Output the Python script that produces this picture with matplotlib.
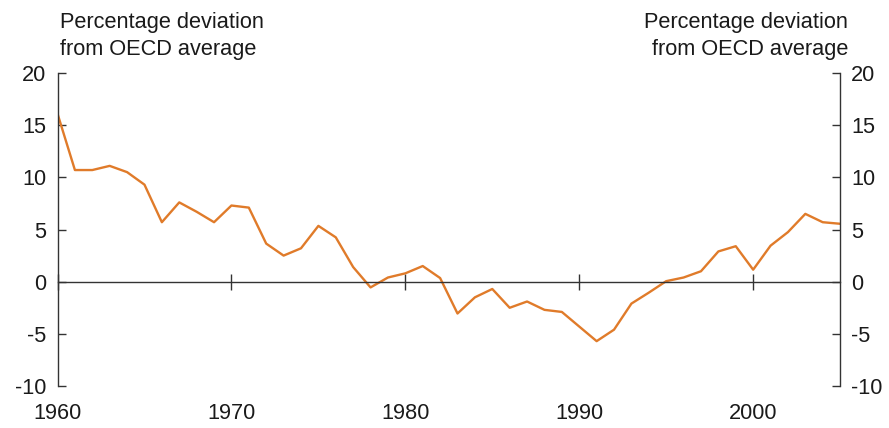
import matplotlib
matplotlib.use("Agg")
import matplotlib.pyplot as plt
import matplotlib.transforms as mtransforms

plt.rcParams['font.family'] = ['Liberation Sans', 'DejaVu Sans']
plt.rcParams['axes.unicode_minus'] = False

years = list(range(1960, 2006))
deviation = [16.1, 10.7, 10.7, 11.1, 10.5, 9.3, 5.7, 7.6, 6.7, 5.7,
             7.3, 7.1, 3.65, 2.5, 3.2, 5.35, 4.25, 1.4, -0.55, 0.4,
             0.8, 1.5, 0.35, -3.05, -1.5, -0.7, -2.5, -1.9, -2.7, -2.9,
             -4.3, -5.7, -4.6, -2.1, -1.05, 0.05, 0.4, 1.0, 2.9, 3.4,
             1.15, 3.45, 4.75, 6.5, 5.7, 5.55]
decade_ticks = [1960, 1970, 1980, 1990, 2000]
y_ticks = [-10, -5, 0, 5, 10, 15, 20]
unit_label = "Percentage deviation\nfrom OECD average"

fig = plt.figure(figsize=(8.89, 4.28), dpi=100)
ax = fig.add_axes([0.0647, 0.0981, 0.8803, 0.7313])

ax.plot(years, deviation, color='#E07B2A', lw=1.7)
ax.set_xlim(1960, 2005)
ax.set_ylim(-10, 20)

spine_col = '#333333'
ax.spines['top'].set_visible(False)
ax.spines['bottom'].set_position(('data', 0))
for s in ['left', 'right', 'bottom']:
    ax.spines[s].set_color(spine_col)
    ax.spines[s].set_linewidth(1.0)

ax.set_yticks(y_ticks)
ax.set_yticklabels([str(v) for v in y_ticks])
ax.tick_params(axis='y', direction='in', length=6, width=1, color=spine_col,
               labelsize=15.7, left=True, right=True, labelleft=True,
               labelright=True, pad=8, labelcolor='#1a1a1a')

ax.set_xticks(decade_ticks)
ax.set_xticklabels([])
ax.tick_params(axis='x', direction='inout', length=12, width=1, color=spine_col)

trans = mtransforms.blended_transform_factory(ax.transData, ax.transAxes)
for yr in decade_ticks:
    ax.text(yr, -0.087, str(yr), transform=trans, ha='center', va='center',
            fontsize=15.7, color='#1a1a1a')

fig.text(60 / 889, 1 - 36 / 428, unit_label, ha='left', va='center',
         fontsize=15.7, color='#1a1a1a', linespacing=1.4)
fig.text(848 / 889, 1 - 36 / 428, unit_label, ha='right', va='center',
         fontsize=15.7, color='#1a1a1a', linespacing=1.4)

fig.savefig("out.png", dpi=100)
